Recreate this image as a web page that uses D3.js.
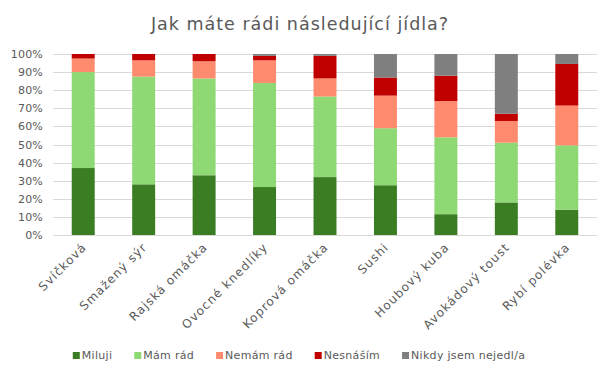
<!DOCTYPE html>
<html><head><meta charset="utf-8">
<script src="https://cdn.jsdelivr.net/npm/d3@7"></script>
<style>body{margin:0;background:#fff}svg{display:block}text{font-family:"DejaVu Sans",sans-serif;fill:#595959}</style>
</head><body><svg id="c" width="600" height="374"></svg>
<script>
const categories = ["Svíčková","Smažený sýr","Rajská omáčka","Ovocné knedlíky","Koprová omáčka","Sushi","Houbový kuba","Avokádový toust","Rybí polévka"];
const seriesNames = ["Miluji","Mám rád","Nemám rád","Nesnáším","Nikdy jsem nejedl/a"];
const miluji    = [37, 28, 33, 26.5, 32, 27.5, 11.5, 18, 14];
const mamRad    = [53, 59.5, 53.5, 57.5, 44.5, 31.5, 42.5, 33, 35.5];
const nemamRad  = [7.5, 9, 9.5, 12.5, 10, 18, 20, 12, 22];
const nesnasim  = [2.5, 3.5, 4, 2.5, 12.5, 10, 14, 4, 23];
const nikdy     = [0, 0, 0, 1, 1, 13, 12, 33, 5.5];
const yTicks = [0,0.1,0.2,0.3,0.4,0.5,0.6,0.7,0.8,0.9,1];
const colors = ["#3B7D23","#8ED973","#FF8B6E","#C00000","#7F7F7F"];

const svg = d3.select("#c");
const seriesVals = [miluji, mamRad, nemamRad, nesnasim, nikdy];
const data = categories.map((c,i)=>{const o={cat:c}; seriesNames.forEach((s,j)=>o[s]=seriesVals[j][i]/100); return o;});
const stack = d3.stack().keys(seriesNames)(data);

const x = d3.scaleBand().domain(categories).range([53,597]).paddingInner(0.62).paddingOuter(0.31);
const y = d3.scaleLinear().domain([0,1]).range([235,54]);

svg.append("text").attr("x",300).attr("y",30).attr("text-anchor","middle")
  .style("font-size","17.5px").style("letter-spacing","1px").text("Jak máte rádi následující jídla?");

const grid = svg.append("g");
grid.selectAll("line").data(yTicks).join("line")
  .attr("x1",53).attr("x2",597).attr("y1",d=>Math.round(y(d))+0.5).attr("y2",d=>Math.round(y(d))+0.5)
  .attr("stroke","#D9D9D9").attr("stroke-width",1);

const yAxis = d3.axisLeft(y).tickValues(yTicks).tickFormat(d3.format(".0%")).tickSize(0).tickPadding(0);
const ya = svg.append("g").attr("transform","translate(43,0)").call(yAxis);
ya.select(".domain").remove();
ya.selectAll("text").style("font-size","11px").style("letter-spacing","0.2px").attr("fill","#595959");

svg.append("g").selectAll("g").data(stack).join("g").attr("fill",(d,i)=>colors[i])
  .selectAll("rect").data(d=>d).join("rect")
  .attr("x",d=>x(d.data.cat)).attr("width",x.bandwidth())
  .attr("y",d=>y(d[1])).attr("height",d=>y(d[0])-y(d[1]));

const xAxis = d3.axisBottom(x).tickSize(0).tickPadding(0);
const xa = svg.append("g").attr("transform","translate(0,235)").call(xAxis);
xa.select(".domain").remove();
xa.selectAll("text").style("font-size","12px").style("letter-spacing","1.1px").attr("fill","#595959")
  .attr("text-anchor","end").attr("dy",0).attr("y",0)
  .attr("transform","translate(4,13) rotate(-45)");

const leg = svg.append("g");
let lx = 0;
seriesNames.forEach((s,i)=>{
  const g = leg.append("g");
  g.append("rect").attr("width",7).attr("height",7).attr("y",-7).attr("fill",colors[i]);
  const t = g.append("text").attr("x",9).attr("y",0).style("font-size","11px").style("letter-spacing","0.3px").text(s);
  const w = 9 + t.node().getComputedTextLength();
  g.attr("transform",`translate(${lx},0)`);
  lx += w + 22;
});
const total = lx - 22;
leg.attr("transform",`translate(${299 - total/2},359)`);
</script></body></html>
